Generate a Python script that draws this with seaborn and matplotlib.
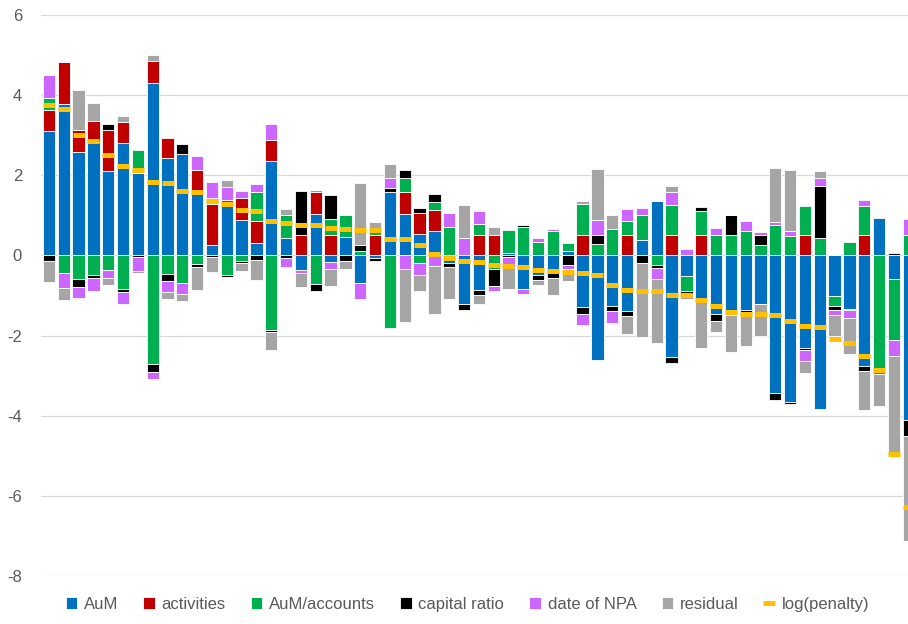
import numpy as np
import pandas as pd
import matplotlib
matplotlib.use('Agg')
import matplotlib.pyplot as plt
import seaborn as sns

# contributions per bank
aum = [3.11, 3.79, 2.58, 2.83, 2.11, 2.81, 2.06, 4.31, 2.42, 2.54,
       1.58, 0.25, 1.39, 0.89, 0.32, 2.36, 0.43, -0.36, 1.04, -0.17,
       0.46, -0.68, -0.07, 1.58, 1.04, 0.54, 0.62, -0.20, -1.21, -0.86,
       0.00, 0.06, -0.83, -0.50, -0.44, 0.10, -1.29, -2.60, -1.27, -1.40,
       0.39, 1.35, -2.54, -0.52, -1.12, -1.46, -1.50, -1.36, -1.22, -3.44,
       -3.67, -2.32, -3.83, -1.02, -1.33, -2.77, 0.93, -0.60, -4.11]
activities = [0.53, 1.03, 0.54, 0.53, 1.01, 0.52, 0.00, 0.54, 0.52, 0.00,
              0.54, 1.04, 0.00, 0.53, 0.53, 0.53, 0.00, 0.52, 0.54, 0.52,
              0.00, 0.00, 0.52, 0.00, 0.53, 0.53, 0.52, 0.00, 0.00, 0.52,
              0.52, 0.00, 0.00, 0.00, 0.00, 0.00, 0.52, 0.00, 0.00, 0.52,
              0.00, 0.00, 0.52, 0.00, 0.52, 0.00, 0.00, 0.00, 0.00, 0.00,
              0.00, 0.52, 0.00, 0.00, 0.00, 0.52, 0.00, 0.00, 0.00]
aum_accounts = [0.29, -0.43, -0.59, -0.48, -0.37, -0.83, 0.58, -2.72, -0.46, -0.69,
                -0.21, 0.15, -0.50, -0.15, 0.73, -1.87, 0.57, 0.00, -0.71, 0.38,
                0.56, 0.12, 0.10, -1.80, 0.35, -0.19, 0.19, 0.71, 0.00, 0.27,
                -0.35, 0.57, 0.71, 0.33, 0.60, 0.22, 0.77, 0.29, 0.65, 0.35,
                0.61, -0.23, 0.73, -0.38, 0.60, 0.50, 0.52, 0.62, 0.25, 0.75,
                0.48, 0.71, 0.44, -0.25, 0.33, 0.71, -2.96, -1.51, 0.52]
capital_ratio = [-0.15, 0.00, -0.20, -0.09, 0.16, -0.09, -0.05, -0.18, -0.19, 0.24,
                 -0.08, -0.05, -0.04, -0.04, -0.12, -0.05, -0.07, 1.09, -0.18, 0.61,
                 -0.15, 0.14, -0.08, 0.09, 0.22, 0.12, 0.21, -0.10, -0.15, -0.12,
                 -0.42, -0.05, 0.06, -0.12, -0.13, -0.23, -0.17, 0.23, -0.13, -0.12,
                 -0.19, -0.09, -0.15, -0.07, 0.10, -0.18, 0.50, -0.12, 0.27, -0.18,
                 -0.04, -0.04, 1.29, -0.09, -0.04, -0.12, 0.03, 0.06, -0.39]
date_npa = [0.57, -0.38, -0.27, -0.31, -0.19, -0.29, -0.33, -0.18, -0.27, -0.27,
            0.37, 0.38, 0.32, 0.19, 0.20, 0.38, -0.22, -0.08, 0.06, -0.18,
            0.00, -0.42, 0.00, 0.27, -0.35, -0.31, -0.27, 0.35, 0.44, 0.32,
            -0.12, -0.24, -0.13, 0.11, 0.05, -0.12, -0.27, 0.37, -0.28, 0.30,
            0.19, -0.28, 0.33, 0.17, -0.05, 0.18, 0.00, 0.23, 0.06, 0.08,
            0.14, -0.28, 0.21, -0.14, -0.19, 0.15, 0.00, -0.41, 0.38]
residual = [-0.52, -0.30, 1.01, 0.44, -0.17, 0.15, -0.07, 0.14, -0.18, -0.19,
            -0.58, -0.37, 0.17, -0.21, -0.49, -0.44, 0.16, -0.35, 0.00, -0.42,
            -0.18, 1.54, 0.21, 0.33, -1.32, -0.39, -1.19, -0.79, 0.82, -0.23,
            0.19, -0.54, -0.04, -0.13, -0.41, -0.30, 0.06, 1.26, 0.35, -0.43,
            -1.85, -1.58, 0.15, -0.13, -1.14, -0.28, -0.90, -0.79, -0.80, 1.35,
            1.50, -0.29, 0.16, -0.52, -0.90, -0.97, -0.79, -2.46, -2.64]
log_penalty = [3.76, 3.65, 3.00, 2.86, 2.50, 2.22, 2.14, 1.84, 1.81, 1.61,
               1.58, 1.35, 1.29, 1.14, 1.12, 0.85, 0.81, 0.76, 0.76, 0.68,
               0.67, 0.64, 0.64, 0.42, 0.42, 0.25, 0.04, -0.06, -0.15, -0.17,
               -0.25, -0.27, -0.29, -0.375, -0.39, -0.42, -0.44, -0.48, -0.75, -0.86,
               -0.90, -0.90, -0.98, -1.00, -1.11, -1.27, -1.42, -1.475, -1.475, -1.50,
               -1.625, -1.75, -1.775, -2.08, -2.18, -2.52, -2.85, -4.96, -6.29]

series_names = ['AuM', 'activities', 'AuM/accounts', 'capital ratio', 'date of NPA', 'residual']
series_vals = [aum, activities, aum_accounts, capital_ratio, date_npa, residual]
series_cols = ['#0070C0', '#C00000', '#00B050', '#000000', '#CC66FF', '#A5A5A5']

sns.set_theme(style='white')
plt.rcParams['font.family'] = ['Liberation Sans', 'DejaVu Sans']
plt.rcParams['axes.unicode_minus'] = False

fig = plt.figure(figsize=(9.08, 6.24), dpi=100)
ax = fig.add_axes([0.0457, 0.077, 0.954, 0.899])

n = len(aum)
x = np.arange(n)
pos = np.zeros(n)
neg = np.zeros(n)
for name, vals, col in zip(series_names, series_vals, series_cols):
    v = np.array(vals, dtype=float)
    bottom = np.where(v >= 0, pos, neg)
    ax.bar(x, v, 0.83, bottom=bottom, color=col, edgecolor='white',
           linewidth=0.6, label=name, zorder=2)
    pos += np.clip(v, 0, None)
    neg += np.clip(v, None, 0)

ax.plot(x, log_penalty, ls='none', marker='_', ms=9, mew=3.6,
        color='#FFC000', label='log(penalty)', zorder=3)

ax.set_xlim(-0.5, 57.93)
ax.set_ylim(-8, 6)
ax.set_yticks(range(-8, 7, 2))
ax.set_xticks([])
ax.yaxis.grid(True, color='#D9D9D9', lw=0.9, zorder=0)
ax.set_axisbelow(True)
for s in ax.spines.values():
    s.set_visible(False)
ax.tick_params(axis='y', length=0, pad=14, labelsize=12, labelcolor='#595959')

# legend: bar series first, penalty last (as in the original)
handles, labels = ax.get_legend_handles_labels()
handles = handles[1:] + handles[:1]
labels = labels[1:] + labels[:1]
fig.legend(handles, labels, loc='lower center', ncol=7,
           bbox_to_anchor=(0.515, -0.005), frameon=False, fontsize=12,
           handlelength=0.7, handletextpad=0.4, columnspacing=1.5,
           labelcolor='#595959')

fig.savefig('out.png', dpi=100)
